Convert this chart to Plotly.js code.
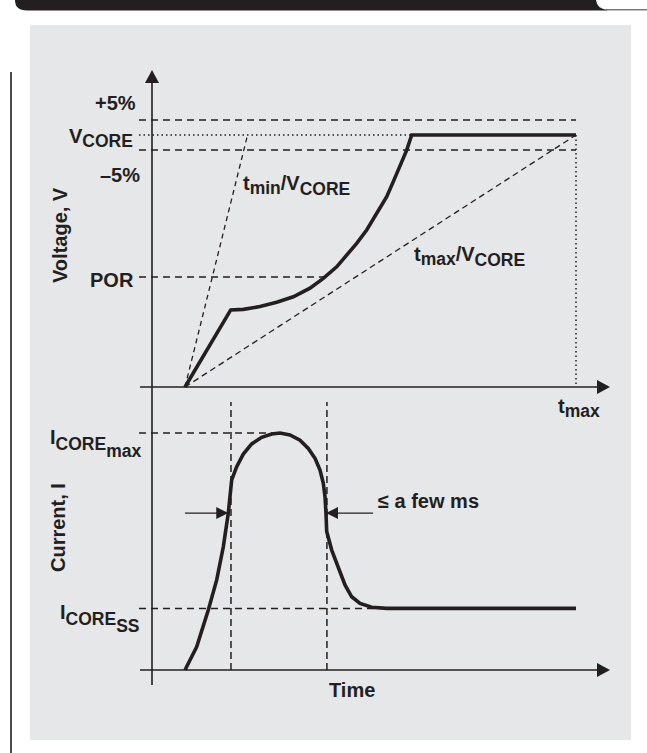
<!DOCTYPE html>
<html><head><meta charset="utf-8">
<script src="https://cdn.plot.ly/plotly-3.0.1.min.js"></script>
<style>html,body{margin:0;padding:0;background:#fff;overflow:hidden}#chart{width:647px;height:753px}</style>
</head><body><div id="chart"></div>
<script>
// ---------------- data (time: ramp start = 0, t_max = 10; V in units of VCORE; I in units of ICOREmax)
const voltTime  = [0, 1.169, 1.491, 1.918, 2.345, 2.770, 3.197, 3.537, 3.880, 4.136, 4.391, 4.647, 4.903, 5.159, 5.327, 5.499, 5.670, 5.798, 10];
const voltValue = [0, 0.306, 0.308, 0.319, 0.336, 0.358, 0.392, 0.431, 0.477, 0.524, 0.570, 0.623, 0.689, 0.755, 0.815, 0.874, 0.940, 1.0, 1.0];

const currTime  = [0, 0.299, 0.596, 0.811, 0.980, 1.107, 1.194, 1.322, 1.491, 1.706, 1.962, 2.217, 2.430, 2.685, 2.941, 3.153, 3.325, 3.453, 3.537, 3.581, 3.606, 3.624, 3.752, 3.921, 4.092, 4.263, 4.476, 4.775, 5.159, 10];
const currValue = [0, 0.098, 0.253, 0.380, 0.520, 0.661, 0.802, 0.858, 0.911, 0.954, 0.982, 0.996, 1.0, 0.992, 0.970, 0.935, 0.893, 0.844, 0.788, 0.731, 0.661, 0.584, 0.506, 0.429, 0.359, 0.309, 0.281, 0.265, 0.26, 0.26];

const levelNames  = ['+5%', 'VCORE', '–5%', 'POR'];
const levelValues = [1.06, 1.0, 0.94, 0.437];
const levelEnds   = [10, 10, 10, 3.54];
const tMin = 1.60;
const tMax = 10;

const iLevelNames  = ['ICOREmax', 'ICORESS'];
const iLevelValues = [1.0, 0.26];
const iLevelEnds   = [2.25, 5.0];
const pulseEdges   = [1.176, 3.63];
const pulseTop     = 1.131;
const arrowLevel   = 0.662;
const arrowTips    = [1.107, 3.606];
const arrowTails   = [0, 4.81];

// ---------------- geometry helpers
const W = 647, H = 753;
const X0PX = 185, XSCALE = 39.1;
const V0PX = 387, VSCALE = 252;
const I0PX = 670, ISCALE = 237;
const pxT = px => (px - X0PX) / XSCALE;
const pyV = py => (V0PX - py) / VSCALE;
const pyI = py => (I0PX - py) / ISCALE;
const PX = px => px / W;
const PY = py => 1 - py / H;
const dark = '#231f20';
const FONT = 'Liberation Sans, Arial, Helvetica, sans-serif';
const FS = 20;

const levelStart = pxT(139);
const levelDash = ['7px,5px', '1.5px,3px', '7px,5px', '7px,5px'];

const traces = [];
levelValues.forEach((v, i) => {
  traces.push({x: [levelStart, levelEnds[i]], y: [v, v], mode: 'lines', yaxis: 'y',
    line: {color: dark, width: 1.5, dash: levelDash[i]}, hoverinfo: 'skip'});
});
traces.push({x: [tMax, tMax], y: [levelValues[1], 0], mode: 'lines', yaxis: 'y',
  line: {color: dark, width: 1.5, dash: '1.5px,3px'}});
traces.push({x: [0, tMin], y: [0, 1], mode: 'lines', yaxis: 'y',
  line: {color: dark, width: 1.3, dash: '5px,4px'}});
traces.push({x: [0, tMax], y: [0, 1], mode: 'lines', yaxis: 'y',
  line: {color: dark, width: 1.3, dash: '6px,4px'}});
traces.push({x: voltTime, y: voltValue, mode: 'lines', yaxis: 'y',
  line: {color: dark, width: 3.6}});

iLevelValues.forEach((v, i) => {
  traces.push({x: [levelStart, iLevelEnds[i]], y: [v, v], mode: 'lines', yaxis: 'y2',
    line: {color: dark, width: 1.5, dash: '7px,5px'}});
});
pulseEdges.forEach(e => {
  traces.push({x: [e, e], y: [0, pulseTop], mode: 'lines', yaxis: 'y2',
    line: {color: dark, width: 1.5, dash: '7px,4px'}});
});
traces.push({x: currTime, y: currValue, mode: 'lines', yaxis: 'y2',
  line: {color: dark, width: 3.6}});

// ---------------- decoration shapes
function pathPx(cmds) {
  return cmds.map(c => c[0] + c.slice(1).map((v, k) => (k % 2 === 0 ? PX(v) : PY(v)).toFixed(5)).reduce((a, b, k) => a + (k % 2 === 0 ? (k ? ' ' : '') : ',') + b, '')).join(' ');
}
const shapes = [];
// panel
shapes.push({type: 'rect', xref: 'paper', yref: 'paper', x0: PX(30), x1: PX(631), y0: PY(25), y1: PY(740),
  fillcolor: '#e6e7e8', line: {width: 0}, layer: 'below'});
// header bar
shapes.push({type: 'path', xref: 'paper', yref: 'paper', layer: 'below', fillcolor: dark, line: {width: 0},
  path: pathPx([['M', 15, 0], ['L', 596, 0], ['Q', 597, 9, 607, 9.5], ['L', 607, 10.5], ['L', 27, 10.5], ['Q', 15, 10.5, 15, 0], ['Z']])});
shapes.push({type: 'line', xref: 'paper', yref: 'paper', x0: PX(604), x1: PX(647), y0: PY(9.8), y1: PY(9.8),
  line: {color: '#7a7a7a', width: 1.5}, layer: 'below'});
// left rule
shapes.push({type: 'line', xref: 'paper', yref: 'paper', x0: PX(11), x1: PX(11), y0: PY(72), y1: PY(753),
  line: {color: dark, width: 1.6}, layer: 'below'});

// axes
const yAxisT = pxT(152);
const axisLeft = pxT(140);
const axisTip = pxT(610);
shapes.push({type: 'line', xref: 'x', yref: 'y', x0: yAxisT, x1: yAxisT, y0: pyV(685), y1: pyV(80),
  line: {color: dark, width: 1.6}});
shapes.push({type: 'line', xref: 'x', yref: 'y', x0: axisLeft, x1: pxT(600), y0: 0, y1: 0,
  line: {color: dark, width: 1.6}});
shapes.push({type: 'line', xref: 'x', yref: 'y2', x0: axisLeft, x1: pxT(600), y0: 0, y1: 0,
  line: {color: dark, width: 1.6}});

function head(xa, ya, yref, dir, len, half) {
  let path;
  if (dir === 'up') path = `M0,0 L${-half},${-len} L${half},${-len} Z`;
  else if (dir === 'right') path = `M0,0 L${-len},${half} L${-len},${-half} Z`;
  else path = `M0,0 L${len},${half} L${len},${-half} Z`;
  return {type: 'path', xref: 'x', yref: yref, xsizemode: 'pixel', ysizemode: 'pixel',
    xanchor: xa, yanchor: ya, path: path, fillcolor: dark, line: {width: 0}, layer: 'above'};
}
shapes.push(head(yAxisT, pyV(70), 'y', 'up', 13, 7));
shapes.push(head(axisTip, 0, 'y', 'right', 13, 7));
shapes.push(head(axisTip, 0, 'y2', 'right', 13, 7));
// "a few ms" arrows
shapes.push({type: 'line', xref: 'x', yref: 'y2', x0: arrowTails[0], x1: arrowTips[0] - 10 / XSCALE, y0: arrowLevel, y1: arrowLevel,
  line: {color: dark, width: 1.3}});
shapes.push({type: 'line', xref: 'x', yref: 'y2', x0: arrowTails[1], x1: arrowTips[1] + 10 / XSCALE, y0: arrowLevel, y1: arrowLevel,
  line: {color: dark, width: 1.3}});
shapes.push(head(arrowTips[0], arrowLevel, 'y2', 'right', 12, 6));
shapes.push(head(arrowTips[1], arrowLevel, 'y2', 'left', 12, 6));

// ---------------- labels
const sub = (txt, ctx, size) => `<span style="font-size:${ctx}px"><sub><span style="font-size:${size}px">${txt}</span></sub></span>`;
const sub2 = (a, b) => `<span style="font-size:28.5px"><sub><span style="font-size:17.5px">${a}</span><span style="font-size:33px"><sub><span style="font-size:17.5px">${b}</span></sub></span></sub></span>`;
const fmt = name => {
  if (name === 'VCORE') return 'V' + sub('CORE', 19.5, 17.5);
  if (name === 'ICOREmax') return 'I' + sub2('CORE', 'max');
  if (name === 'ICORESS') return 'I' + sub2('CORE', 'SS');
  return name;
};
const A = (text, px, py, xanchor, extra) => Object.assign({
  text: text, x: PX(px), y: PY(py), xref: 'paper', yref: 'paper', xanchor: xanchor, yanchor: 'middle',
  showarrow: false, borderpad: 0, font: {family: FONT, size: FS, color: dark, weight: 'bold'}
}, extra || {});

const annotations = [
  A(fmt(levelNames[0]), 137, 103, 'right'),
  A(fmt(levelNames[1]), 134, 138, 'right'),
  A(fmt(levelNames[2]), 141, 174.5, 'right'),
  A(fmt(levelNames[3]), 135, 279.5, 'right'),
  A('Voltage, V', 60, 235, 'center', {textangle: -90}),
  A('t' + sub('min', 19.5, 17.5) + '/V' + sub('CORE', 22, 17.5), 242, 185, 'left'),
  A('t' + sub('max', 19.5, 17.5) + '/V' + sub('CORE', 22, 17.5), 413, 257, 'left'),
  A('t' + sub('max', 19.5, 17.5), 557, 408, 'left'),
  A(fmt(iLevelNames[0]), 49, 443, 'left'),
  A('Current, I', 58, 528, 'center', {textangle: -90}),
  A('≤ a few ms', 377, 501, 'left'),
  A(fmt(iLevelNames[1]), 59, 618, 'left'),
  A('Time', 352, 690, 'center')
];

const layout = {
  width: W, height: H, margin: {l: 0, r: 0, t: 0, b: 0, pad: 0},
  paper_bgcolor: '#ffffff', plot_bgcolor: 'rgba(0,0,0,0)', showlegend: false,
  xaxis: {domain: [0, 1], range: [pxT(0), pxT(W)], visible: false, fixedrange: true},
  yaxis: {domain: [0, 1], range: [pyV(H), pyV(0)], visible: false, fixedrange: true},
  yaxis2: {domain: [0, 1], range: [pyI(H), pyI(0)], visible: false, overlaying: 'y', fixedrange: true},
  shapes: shapes, annotations: annotations, hovermode: false
};
traces.forEach(t => { t.hoverinfo = 'skip'; t.cliponaxis = false; });
Plotly.newPlot('chart', traces, layout, {staticPlot: true, displayModeBar: false});
</script></body></html>
